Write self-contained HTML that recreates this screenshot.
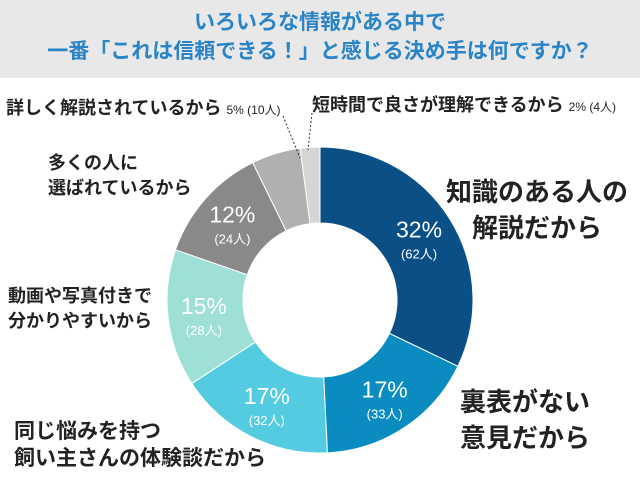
<!DOCTYPE html>
<html><head><meta charset="utf-8"><style>
body{margin:0;width:640px;height:480px;background:#fff;overflow:hidden;font-family:"Liberation Sans","Noto Sans CJK JP",sans-serif;position:relative}
.t{position:absolute;left:0;top:0;width:640px;height:78px;background:#e8e8e8;color:#2a84c6;font-weight:bold;font-size:21px;text-align:center;line-height:29px;padding-top:8px;box-sizing:border-box}
.l{position:absolute;color:#222;font-weight:bold;white-space:nowrap}
.s{font-size:12px;font-weight:normal}
svg{position:absolute;left:0;top:0}
</style></head><body>
<div class="t">いろいろな情報がある中で<br>一番「これは信頼できる！」と感じる決め手は何ですか？</div>
<svg width="640" height="480" id="chart">
<line x1="283" y1="116" x2="300" y2="158" stroke="#333" stroke-dasharray="2,2"/>
<line x1="312" y1="113" x2="308" y2="150" stroke="#333" stroke-dasharray="2,2"/>
</svg>
<div class="l" style="left:6px;top:94px;font-size:18px">詳しく解説されているから <span class="s">5% (10人)</span></div>
<div class="l" style="left:312px;top:91px;font-size:18px">短時間で良さが理解できるから <span class="s">2% (4人)</span></div>
<div class="l" style="left:48px;top:151px;font-size:18px;line-height:25px">多くの人に<br>選ばれているから</div>
<div class="l" style="left:8px;top:284px;font-size:18px;line-height:25px">動画や写真付きで<br>分かりやすいから</div>
<div class="l" style="left:14px;top:418px;font-size:21px;line-height:27px">同じ悩みを持つ<br>飼い主さんの体験談だから</div>
<div class="l" style="left:446px;top:174px;font-size:26px;line-height:36px;text-align:center">知識のある人の<br>解説だから</div>
<div class="l" style="left:460px;top:384px;font-size:26px;line-height:36px">裏表がない<br>意見だから</div>
<script>
const categories=["expert","honest","same-worry","video","popular","detail","short-time"];
const counts=[62,33,32,28,24,10,4];
const percents=["32%","17%","17%","15%","12%","",""];
const peopleLabels=["(62人)","(33人)","(32人)","(28人)","(24人)","",""];
const colors=["#0b4f87","#0a8cc0","#55cbe1","#9ee0d5","#898989","#b0b0b0","#d5d5d5"];
const svg=document.getElementById('chart');
const NS="http://www.w3.org/2000/svg";
const cx=320,cy=300,R=153,r=77;
const total=counts.reduce((a,b)=>a+b,0);
function pt(a,rad){return [cx+rad*Math.sin(a),cy-rad*Math.cos(a)];}
let acc=0;
counts.forEach((v,i)=>{
 const a0=acc/total*2*Math.PI;acc+=v;const a1=acc/total*2*Math.PI;
 const big=(a1-a0)>Math.PI?1:0;
 const [x0,y0]=pt(a0,R),[x1,y1]=pt(a1,R),[x2,y2]=pt(a1,r),[x3,y3]=pt(a0,r);
 const p=document.createElementNS(NS,'path');
 p.setAttribute('d',`M${x0},${y0}A${R},${R} 0 ${big} 1 ${x1},${y1}L${x2},${y2}A${r},${r} 0 ${big} 0 ${x3},${y3}Z`);
 p.setAttribute('fill',colors[i]);p.setAttribute('stroke','#fff');p.setAttribute('stroke-width','1');
 
 
 svg.insertBefore(p,svg.firstChild);
 if(percents[i]){
  const [tx,ty]=pt((a0+a1)/2,(R+r)/2+2);
  const t=document.createElementNS(NS,'text');
  t.setAttribute('x',tx);t.setAttribute('y',ty);t.setAttribute('text-anchor','middle');
  t.setAttribute('fill','#fff');t.setAttribute('font-size','23');
  t.setAttribute('font-family','"Liberation Sans",sans-serif');
  t.textContent=percents[i];
  
  
  svg.appendChild(t);
  const t2=document.createElementNS(NS,'text');
  t2.setAttribute('x',tx);t2.setAttribute('y',ty+21);t2.setAttribute('text-anchor','middle');
  t2.setAttribute('fill','#fff');t2.setAttribute('font-size','13');
  t2.setAttribute('font-family','"Liberation Sans","Noto Sans CJK JP",sans-serif');
  t2.textContent=peopleLabels[i];
  
  
  svg.appendChild(t2);
 }
});
</script>
</body></html>
